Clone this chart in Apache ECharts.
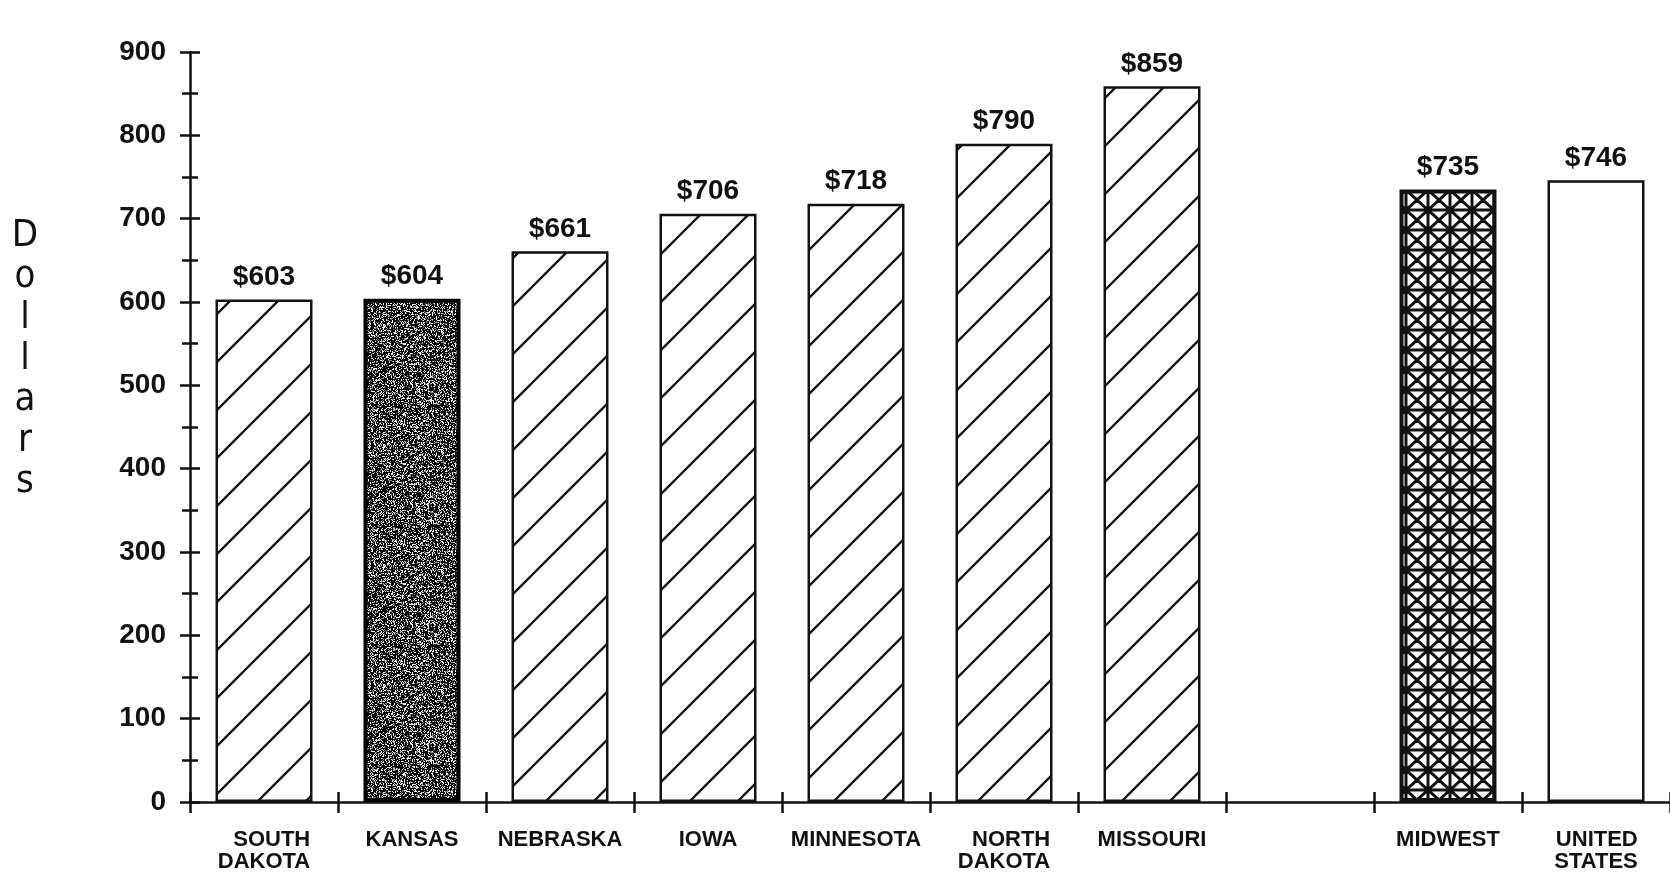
<!DOCTYPE html>
<html>
<head>
<meta charset="utf-8">
<script src="https://cdn.jsdelivr.net/npm/echarts@6/dist/echarts.min.js"></script>
<style>
  html, body { margin: 0; padding: 0; background: #fff; }
  #chart { width: 1670px; height: 884px; }
</style>
</head>
<body>
<div id="chart"></div>
<script>
// Average spending per state / region, in dollars
const categories = ['SOUTH\nDAKOTA', 'KANSAS', 'NEBRASKA', 'IOWA', 'MINNESOTA', 'NORTH\nDAKOTA', 'MISSOURI', '', 'MIDWEST', 'UNITED\nSTATES'];
const spending   = [603, 604, 661, 706, 718, 790, 859, null, 735, 746];
const fillKinds  = ['hatch', 'speckle', 'hatch', 'hatch', 'hatch', 'hatch', 'hatch', null, 'lattice', 'plain'];
const axisTitle  = 'Dollars';
const yMin = 0, yMax = 900, yStep = 100;

const INK = '#111';
const LABEL_FONT = '"Liberation Sans", Arial, sans-serif';

// Build a repeating canvas fill
function tile(w, h, draw) {
  const c = document.createElement('canvas');
  c.width = w; c.height = h;
  const g = c.getContext('2d');
  draw(g, w, h);
  return { image: c, repeat: 'repeat' };
}

// Diagonal "/" hatching, lines x + y = phase (mod 48)
const hatchFill = tile(48, 48, (g, w, h) => {
  g.fillStyle = '#fff'; g.fillRect(0, 0, w, h);
  g.strokeStyle = INK; g.lineWidth = 2.3; g.beginPath();
  const phase = 3;
  for (let k = -1; k <= 2; k++) {
    const c = phase + k * w;
    g.moveTo(-10, c + 10); g.lineTo(c + 10, -10);
  }
  g.stroke();
});

// Dark stipple for the highlighted state
const speckleFill = tile(120, 120, (g, w, h) => {
  g.fillStyle = '#0b0b0b'; g.fillRect(0, 0, w, h);
  let s = 20240607;
  for (let y = 0; y < h; y++) {
    for (let x = 0; x < w; x++) {
      s = (s * 1103515245 + 12345) & 0x7fffffff;
      const r = (s >> 9) % 100;
      if (r < 22) { g.fillStyle = '#f2f2f2'; g.fillRect(x, y, 1, 1); }
      else if (r < 36) { g.fillStyle = '#8a8a8a'; g.fillRect(x, y, 1, 1); }
    }
  }
});

// Square lattice with crossed diagonals for the regional average
const latticeFill = tile(22, 20, (g, w, h) => {
  g.fillStyle = '#fff'; g.fillRect(0, 0, w, h);
  g.strokeStyle = INK; g.lineWidth = 3; g.beginPath();
  const px = 20, py = 10;
  for (const dx of [-w, 0, w]) {
    for (const dy of [-h, 0, h]) {
      const x0 = px + dx, y0 = py + dy;
      g.moveTo(x0, y0 - h); g.lineTo(x0, y0 + h);
      g.moveTo(x0 - w, y0); g.lineTo(x0 + w, y0);
      g.moveTo(x0, y0); g.lineTo(x0 + w, y0 + h);
      g.moveTo(x0 + w, y0); g.lineTo(x0, y0 + h);
    }
  }
  g.stroke();
});

const fillStyles = {
  hatch:   { color: hatchFill,   borderColor: INK, borderWidth: 2.5 },
  speckle: { color: speckleFill, borderColor: '#000', borderWidth: 4 },
  lattice: { color: latticeFill, borderColor: INK, borderWidth: 4 },
  plain:   { color: '#fff',      borderColor: INK, borderWidth: 2.5 }
};

const barData = spending.map((v, i) =>
  v == null ? '-' : { value: v, itemStyle: fillStyles[fillKinds[i]] }
);

const GRID_LEFT = 190, GRID_TOP = 52, GRID_H = 750, SLOT = 148.9;

const chart = echarts.init(document.getElementById('chart'), null, { renderer: 'canvas' });

const sharedY = { type: 'value', min: yMin, max: yMax, interval: yStep, splitLine: { show: false } };

chart.setOption({
  animation: false,
  backgroundColor: '#fff',
  grid: { left: GRID_LEFT, top: GRID_TOP, height: GRID_H, width: SLOT * categories.length },
  xAxis: [
    {
      type: 'category',
      data: categories,
      position: 'bottom',
      axisLine: { lineStyle: { color: INK, width: 2.5 } },
      axisTick: { show: true, length: 11, lineStyle: { color: INK, width: 2.5 } },
      axisLabel: {
        interval: 0,
        margin: 27,
        color: INK,
        formatter: v => v.split('\n').map(s => '{r|' + s + '}').join('\n'),
        rich: {
          r: { align: 'right', fontFamily: LABEL_FONT, fontWeight: 'bold', fontSize: 22, lineHeight: 22, color: INK }
        }
      }
    },
    {
      type: 'category',
      data: categories,
      position: 'bottom',
      axisLine: { show: false },
      axisTick: { show: true, inside: true, length: 10, lineStyle: { color: INK, width: 2.5 } },
      axisLabel: { show: false }
    }
  ],
  yAxis: [
    Object.assign({}, sharedY, {
      position: 'left',
      axisLine: { show: true, lineStyle: { color: INK, width: 2.5 } },
      axisTick: { show: true, length: 10, lineStyle: { color: INK, width: 2.5 } },
      minorTick: { show: true, splitNumber: 2, length: 8, lineStyle: { color: INK, width: 2.5 } },
      axisLabel: { margin: 24, color: INK, fontFamily: LABEL_FONT, fontWeight: 'bold', fontSize: 28 }
    }),
    Object.assign({}, sharedY, {
      position: 'left',
      axisLine: { show: false },
      axisTick: { show: true, inside: true, length: 10, lineStyle: { color: INK, width: 2.5 } },
      minorTick: { show: true, splitNumber: 2, length: 8, lineStyle: { color: INK, width: 2.5 } },
      axisLabel: { show: false }
    })
  ],
  graphic: [
    {
      type: 'text',
      x: 25, y: 216,
      style: {
        text: axisTitle.split('').join('\n'),
        fontFamily: '"DejaVu Sans Condensed", "DejaVu Sans", sans-serif',
        fontSize: 38,
        lineHeight: 41,
        fill: INK,
        align: 'center',
        verticalAlign: 'top'
      }
    }
  ],
  series: [
    {
      type: 'bar',
      xAxisIndex: 0,
      yAxisIndex: 0,
      data: barData,
      barWidth: 97,
      label: {
        show: true,
        position: 'top',
        distance: 8,
        color: INK,
        fontFamily: LABEL_FONT,
        fontWeight: 'bold',
        fontSize: 28,
        formatter: p => '$' + p.value
      }
    }
  ]
});
</script>
</body>
</html>
